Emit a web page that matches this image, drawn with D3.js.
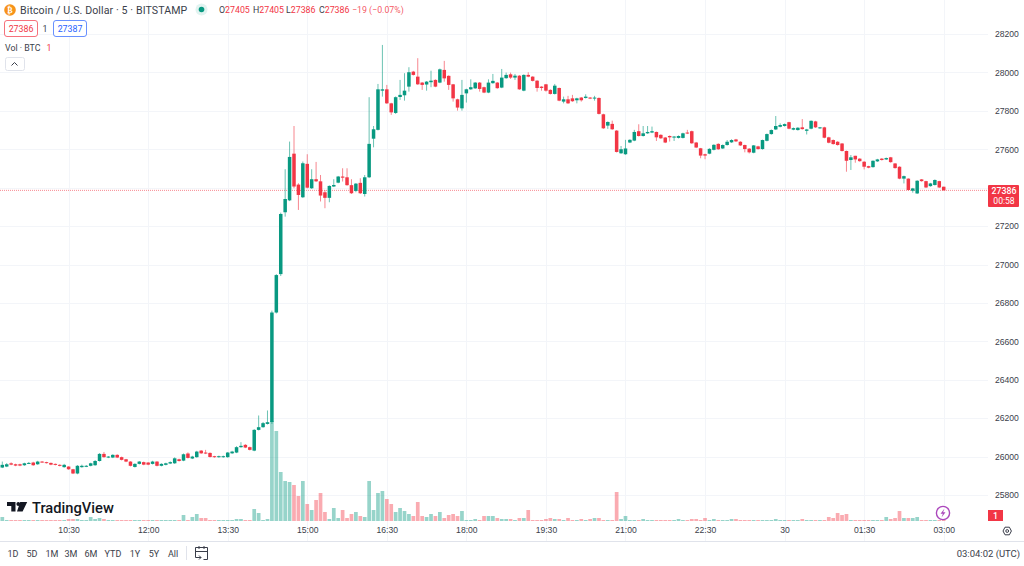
<!DOCTYPE html>
<html>
<head>
<meta charset="utf-8">
<script src="https://cdn.jsdelivr.net/npm/d3@7"></script>
<style>
  html, body { margin: 0; padding: 0; background: #fff; overflow: hidden; }
  svg { display: block; font-family: Roboto, "Liberation Sans", sans-serif; }
  .domain { display: none; }
  .tick line { display: none; }
</style>
</head>
<body>
<svg id="chart" width="1024" height="566"></svg>
<script>
// 5 minute bars, 09:15 to 03:00
let opens = [25943,25948,25965,25960,25960,25955,25964,25969,25960,25974,25971,25967,25962,25957,25945,25948,25934,25912,25945,25948,25952,25955,25977,26014,25995,25995,26009,25997,25986,25974,25946,25962,25971,25969,25962,25974,25952,25957,25964,25965,25986,25979,26016,25990,25997,26031,26021,26019,26002,25997,25997,25997,26017,26021,26049,26061,26049,26031,26139,26153,26170,26180,26750,26950,27272,27334,27577,27416,27350,27524,27397,27444,27433,27376,27347,27406,27426,27458,27454,27413,27383,27425,27367,27454,27655,27701,27905,27912,27839,27789,27872,27881,27926,28004,27978,27947,27937,27949,27961,27947,28013,27982,27938,27860,27813,27891,27912,27917,27947,27923,27895,27944,27947,27921,27970,27990,27973,27983,27905,27987,27978,27957,27926,27938,27909,27888,27919,27848,27860,27865,27855,27869,27867,27869,27865,27867,27782,27723,27732,27697,27579,27574,27635,27645,27694,27669,27683,27687,27690,27675,27661,27669,27662,27659,27659,27687,27694,27635,27605,27574,27577,27597,27628,27604,27622,27636,27651,27639,27622,27603,27582,27615,27601,27644,27679,27703,27717,27721,27741,27702,27700,27714,27696,27707,27745,27709,27714,27662,27648,27639,27630,27591,27544,27566,27551,27535,27512,27507,27537,27551,27547,27558,27526,27509,27447,27447,27384,27370,27443,27434,27408,27414,27434,27405];
let closes = [25957,25960,25958,25953,25953,25965,25967,25955,25974,25971,25967,25958,25957,25952,25957,25934,25912,25952,25952,25952,25965,25977,26014,25997,26000,26009,25995,25983,25974,25952,25962,25974,25958,25958,25974,25952,25962,25965,25971,25991,25977,26012,25993,26000,26026,26017,26016,25998,25997,26002,26002,26021,26026,26049,26056,26047,26035,26139,26153,26174,26179,26750,26945,27263,27341,27560,27406,27362,27527,27400,27444,27433,27359,27347,27409,27414,27458,27452,27413,27371,27421,27371,27454,27628,27704,27912,27912,27839,27792,27871,27883,27905,28001,27987,27938,27935,27952,27957,27926,28016,27969,27935,27865,27817,27883,27912,27923,27947,27914,27895,27947,27956,27918,27973,27987,27973,27983,27912,27987,27978,27956,27919,27919,27905,27888,27931,27853,27860,27839,27850,27865,27855,27874,27864,27869,27784,27709,27742,27704,27586,27600,27604,27649,27690,27669,27683,27690,27694,27662,27657,27635,27662,27666,27669,27683,27682,27631,27609,27567,27567,27602,27623,27600,27622,27639,27648,27641,27620,27601,27584,27620,27601,27648,27679,27700,27721,27726,27731,27707,27710,27712,27705,27703,27748,27714,27714,27660,27634,27627,27622,27591,27540,27558,27547,27538,27509,27504,27540,27547,27544,27554,27533,27502,27447,27460,27388,27396,27436,27434,27401,27422,27440,27401,27386];
let highs = [25974,25966,25970,25963,25963,25968,25972,25973,25978,25977,25973,25969,25964,25960,25962,25950,25936,25956,25958,25956,25968,25982,26018,26024,26003,26012,26012,26000,25988,25976,25965,25977,25974,25971,25978,25976,25965,25968,25975,25996,25989,26016,26022,26004,26030,26034,26035,26022,26004,26005,26005,26024,26030,26054,26075,26065,26052,26143,26214,26180,26240,26760,26950,27270,27496,27640,27721,27423,27536,27574,27496,27534,27466,27388,27412,27444,27461,27501,27501,27444,27424,27449,27466,27871,27721,27940,28143,27935,27842,27875,27961,27996,28027,28008,28074,27950,27955,28009,27964,28020,28060,27985,27940,27863,27961,27915,27964,27950,27950,27926,27964,27992,27950,28018,27999,27999,27992,27986,27990,28001,27980,27960,27928,27940,27912,27940,27921,27874,27878,27883,27868,27872,27886,27872,27878,27870,27785,27745,27749,27700,27617,27649,27652,27701,27730,27721,27721,27718,27692,27678,27664,27672,27669,27672,27686,27701,27697,27638,27607,27577,27605,27626,27631,27625,27648,27652,27654,27642,27624,27606,27622,27618,27650,27682,27703,27773,27735,27734,27743,27713,27715,27757,27706,27750,27748,27716,27717,27665,27651,27642,27632,27593,27570,27566,27553,27538,27514,27542,27550,27554,27557,27560,27528,27511,27463,27449,27399,27439,27445,27436,27425,27443,27436,27405];
let lows = [25940,25945,25955,25950,25950,25952,25961,25952,25957,25968,25964,25955,25954,25949,25942,25931,25909,25908,25942,25945,25949,25952,25974,25994,25992,25992,25992,25980,25971,25949,25943,25959,25955,25955,25959,25949,25949,25954,25961,25962,25974,25976,25990,25987,25994,26014,26013,25995,25994,25994,25994,25994,26014,26018,26046,26044,26032,26028,26136,26150,26167,26170,26745,26940,27249,27330,27397,27284,27346,27396,27393,27430,27328,27293,27324,27403,27423,27432,27410,27367,27376,27367,27354,27450,27610,27698,27874,27836,27779,27784,27857,27853,27900,27984,27935,27909,27905,27923,27923,27944,27952,27909,27848,27801,27801,27843,27909,27914,27900,27892,27892,27941,27915,27918,27967,27966,27961,27909,27902,27975,27953,27900,27905,27900,27885,27885,27850,27839,27836,27847,27839,27848,27864,27861,27853,27781,27706,27706,27701,27583,27576,27571,27632,27642,27666,27666,27680,27684,27643,27654,27632,27640,27643,27656,27656,27679,27628,27606,27553,27548,27574,27594,27597,27601,27619,27633,27638,27617,27584,27578,27579,27598,27598,27641,27676,27700,27714,27718,27704,27699,27697,27702,27677,27704,27711,27706,27657,27631,27624,27619,27588,27483,27492,27530,27535,27495,27501,27504,27534,27541,27544,27530,27499,27444,27422,27385,27374,27367,27431,27398,27405,27411,27398,27386];
let volumes = [4,1,1,1,1,1,1,1,1,1,1,1,1,1,1,2,2,2,1,1,4,2,3,2,1,1,1,1,1,1,1,1,1,1,1,1,1,1,1,1,1,6,1,4,7,3,3,1,1,1,1,1,1,2,2,1,1,12,8,1,2,100,90,49,40,39,36,25,40,17,11,21,28,9,2,13,3,11,3,7,9,5,4,40,11,28,30,22,17,9,13,10,7,5,19,5,4,7,5,9,3,6,7,5,10,1,1,2,1,5,5,5,3,2,2,2,1,3,3,11,1,1,1,2,3,2,2,1,3,1,1,2,1,2,3,3,1,1,1,29,2,5,1,1,1,2,1,1,1,1,1,1,1,2,1,1,2,2,1,3,1,2,1,1,1,2,2,1,1,1,1,1,1,1,1,2,1,1,1,1,1,2,1,1,1,1,1,4,3,8,6,7,1,1,1,1,1,1,1,1,4,2,3,10,3,3,3,4,1,1,1,1,1,1];

let priceTicks = [25800,26000,26200,26400,26600,26800,27000,27200,27400,27600,27800,28000,28200];
let timeTickBars = [15,33,51,69,87,105,123,141,159,177,195,213];
let timeTickLabels = ["10:30","12:00","13:30","15:00","16:30","18:00","19:30","21:00","22:30","30","01:30","03:00"];
let rangeButtons = ["1D","5D","1M","3M","6M","YTD","1Y","5Y","All"];
let lastPrice = 27386;

const green = "#089981", red = "#f23645", gridColor = "#f3f5f9", textColor = "#3a3e4a";
const plotRight = 988, axisBottom = 541;

let svg = d3.select("#chart");

let xScale = d3.scaleLinear().domain([0, 213]).range([2.3, 943.7]);
let yScale = d3.scaleLinear().domain([25800, 28200]).range([495, 34]);
let volScale = d3.scaleLinear().domain([0, 100]).range([521, 421]);

let isUp = (i) => closes[i] >= opens[i];
let bars = d3.range(opens.length);

// grid
svg.append("g").selectAll("line").data(priceTicks).enter().append("line")
   .attr("x1", 0).attr("x2", plotRight)
   .attr("y1", (d) => Math.round(yScale(d)) + 0.5).attr("y2", (d) => Math.round(yScale(d)) + 0.5)
   .attr("stroke", gridColor);
svg.append("g").selectAll("line").data(timeTickBars).enter().append("line")
   .attr("y1", 0).attr("y2", axisBottom)
   .attr("x1", (d) => Math.round(xScale(d)) + 0.5).attr("x2", (d) => Math.round(xScale(d)) + 0.5)
   .attr("stroke", gridColor);

// volume
svg.append("g").selectAll("rect").data(bars).enter().append("rect")
   .attr("x", (i) => xScale(i) - 1.85)
   .attr("width", 3.7)
   .attr("y", (i) => volScale(volumes[i]))
   .attr("height", (i) => volScale(0) - volScale(volumes[i]))
   .attr("fill", (i) => isUp(i) ? green : red)
   .attr("fill-opacity", 0.42);

// last price line
svg.append("line")
   .attr("x1", 0).attr("x2", plotRight)
   .attr("y1", yScale(lastPrice)).attr("y2", yScale(lastPrice))
   .attr("stroke", red).attr("stroke-opacity", 0.6).attr("stroke-dasharray", "1 1");

// candles
svg.append("g").selectAll("line").data(bars).enter().append("line")
   .attr("x1", (i) => xScale(i)).attr("x2", (i) => xScale(i))
   .attr("y1", (i) => yScale(highs[i])).attr("y2", (i) => yScale(lows[i]))
   .attr("stroke", (i) => isUp(i) ? green : red)
   .attr("stroke-opacity", 0.6)
   .attr("stroke-width", 1);
svg.append("g").selectAll("rect").data(bars).enter().append("rect")
   .attr("x", (i) => xScale(i) - 1.75)
   .attr("width", 3.5)
   .attr("y", (i) => yScale(Math.max(opens[i], closes[i])))
   .attr("height", (i) => Math.max(1, Math.abs(yScale(opens[i]) - yScale(closes[i]))))
   .attr("fill", (i) => isUp(i) ? green : red);

// axes, the 27400 label sits under the price tag so it is left out
let yAxis = d3.axisRight(yScale).tickValues(priceTicks.filter((d) => d !== 27400))
   .tickSize(0).tickPadding(0).tickFormat((d) => d);
svg.append("g").attr("transform", "translate(995,0)").call(yAxis)
   .selectAll("text").attr("font-size", 8.6).attr("fill", textColor);
let xAxis = d3.axisBottom(xScale).tickValues(timeTickBars).tickSize(0).tickPadding(0)
   .tickFormat((d, i) => timeTickLabels[i]);
let timeAxis = svg.append("g").attr("transform", "translate(0,527)").call(xAxis);
timeAxis.selectAll("text").attr("font-size", 8.6).attr("fill", textColor)
   .attr("font-weight", (d, i) => timeTickLabels[i] === "30" ? 500 : 400);

svg.append("line").attr("x1", 0).attr("x2", 1024).attr("y1", axisBottom + 0.5).attr("y2", axisBottom + 0.5)
   .attr("stroke", "#e0e3eb");

// price and volume tags
svg.append("rect").attr("x", plotRight).attr("y", 185).attr("width", 31).attr("height", 22).attr("rx", 1).attr("fill", red);
svg.append("text").text(lastPrice).attr("x", 1004).attr("y", 194).attr("text-anchor", "middle")
   .attr("font-size", 8.8).attr("font-weight", 500).attr("fill", "#fff");
svg.append("text").text("00:58").attr("x", 1004).attr("y", 203.5).attr("text-anchor", "middle")
   .attr("font-size", 8.6).attr("fill", "#fff");
svg.append("rect").attr("x", plotRight).attr("y", 510).attr("width", 15).attr("height", 11).attr("fill", red);
svg.append("text").text("1").attr("x", 995.5).attr("y", 518.5).attr("text-anchor", "middle")
   .attr("font-size", 8.8).attr("font-weight", 500).attr("fill", "#fff");

// header
svg.append("circle").attr("cx", 10).attr("cy", 10).attr("r", 5.8).attr("fill", "#f7931a");
svg.append("text").text("₿").attr("x", 10).attr("y", 13).attr("text-anchor", "middle")
   .attr("font-size", 8).attr("font-weight", 700).attr("fill", "#fff").attr("font-family", "DejaVu Sans");
svg.append("text").text("Bitcoin / U.S. Dollar · 5 · BITSTAMP").attr("x", 20).attr("y", 14)
   .attr("font-size", 10.6).attr("letter-spacing", 0.1).attr("fill", textColor);
svg.append("circle").attr("cx", 201.5).attr("cy", 9.5).attr("r", 6).attr("fill", green).attr("fill-opacity", 0.12);
svg.append("circle").attr("cx", 201.5).attr("cy", 9.5).attr("r", 2.8).attr("fill", green);

let ohlc = [["O", "27405"], ["H", "27405"], ["L", "27386"], ["C", "27386"]];
let ohlcX = [219, 253, 286, 319];
ohlc.forEach((d, i) => {
    let t = svg.append("text").attr("x", ohlcX[i]).attr("y", 13).attr("font-size", 8.8);
    t.append("tspan").text(d[0]).attr("fill", textColor);
    t.append("tspan").text(d[1]).attr("fill", red);
});
svg.append("text").text("−19 (−0.07%)").attr("x", 352).attr("y", 13).attr("font-size", 8.8).attr("fill", red).attr("fill-opacity", 0.85);

svg.append("rect").attr("x", 4.5).attr("y", 20.5).attr("width", 33).attr("height", 16).attr("rx", 2.5)
   .attr("fill", "#fff").attr("stroke", red).attr("stroke-opacity", 0.7);
svg.append("text").text("27386").attr("x", 21).attr("y", 32).attr("text-anchor", "middle")
   .attr("font-size", 8.8).attr("fill", red);
svg.append("text").text("1").attr("x", 45).attr("y", 32).attr("text-anchor", "middle")
   .attr("font-size", 8.8).attr("fill", textColor);
svg.append("rect").attr("x", 53.5).attr("y", 20.5).attr("width", 33).attr("height", 16).attr("rx", 2.5)
   .attr("fill", "#fff").attr("stroke", "#2962ff").attr("stroke-opacity", 0.7);
svg.append("text").text("27387").attr("x", 70).attr("y", 32).attr("text-anchor", "middle")
   .attr("font-size", 8.8).attr("fill", "#2962ff");

svg.append("text").text("Vol · BTC").attr("x", 5).attr("y", 51).attr("font-size", 8.8).attr("fill", textColor);
svg.append("text").text("1").attr("x", 46.5).attr("y", 51).attr("font-size", 8.8).attr("fill", red);

svg.append("rect").attr("x", 5.5).attr("y", 57.5).attr("width", 19).attr("height", 13).attr("rx", 2)
   .attr("fill", "#fff").attr("stroke", "#e0e3eb");
svg.append("path").attr("d", "M11.5 65.5l3-3 3 3").attr("fill", "none").attr("stroke", "#3a3e4a").attr("stroke-width", 1);

// logo
svg.append("path").attr("fill", "#131722")
   .attr("d", "M7 502h8.5v9.5h-4.2v-5.5h-4.3zM17 511.5l3.2-9.5h7l-4.6 9.5z");
svg.append("circle").attr("cx", 18.3).attr("cy", 504).attr("r", 1.9).attr("fill", "#131722");
svg.append("text").text("TradingView").attr("x", 32).attr("y", 512.5)
   .attr("font-size", 14.7).attr("font-weight", 500).attr("fill", "#131722");

// replay mark
svg.append("circle").attr("cx", 943).attr("cy", 513).attr("r", 6.6).attr("fill", "#fff").attr("stroke", "#ab47bc").attr("stroke-width", 1.4);
svg.append("path").attr("d", "M944.5 508.5l-4 5.2h2.4l-1.4 3.8 4-5.3h-2.4z").attr("fill", "#ab47bc");

// settings mark
svg.append("path").attr("d", "M1003 531l2-3.8h4.4l2 3.8-2 3.8h-4.4z").attr("fill", "none").attr("stroke", "#3a3e4a");
svg.append("circle").attr("cx", 1007.2).attr("cy", 531).attr("r", 1.4).attr("fill", "none").attr("stroke", "#3a3e4a");

// bottom toolbar
let buttonX = [13, 32, 52, 71, 91, 113, 135, 154, 173];
svg.append("g").selectAll("text").data(rangeButtons).enter().append("text")
   .text((d) => d)
   .attr("x", (d, i) => buttonX[i]).attr("y", 557)
   .attr("text-anchor", "middle")
   .attr("font-size", 9).attr("fill", textColor);
svg.append("line").attr("x1", 186.5).attr("x2", 186.5).attr("y1", 546).attr("y2", 560).attr("stroke", "#e0e3eb");
svg.append("path").attr("fill", "none").attr("stroke", textColor)
   .attr("d", "M197.5 557.5h-2v-10h12v12h-4M195.5 551.5h12M199 546v3M204 546v3M196 557.5h5M199 555.5l2 2-2 2");
svg.append("text").text("03:04:02 (UTC)").attr("x", 1020).attr("y", 557).attr("text-anchor", "end")
   .attr("font-size", 9.5).attr("fill", textColor);
</script>
</body>
</html>
